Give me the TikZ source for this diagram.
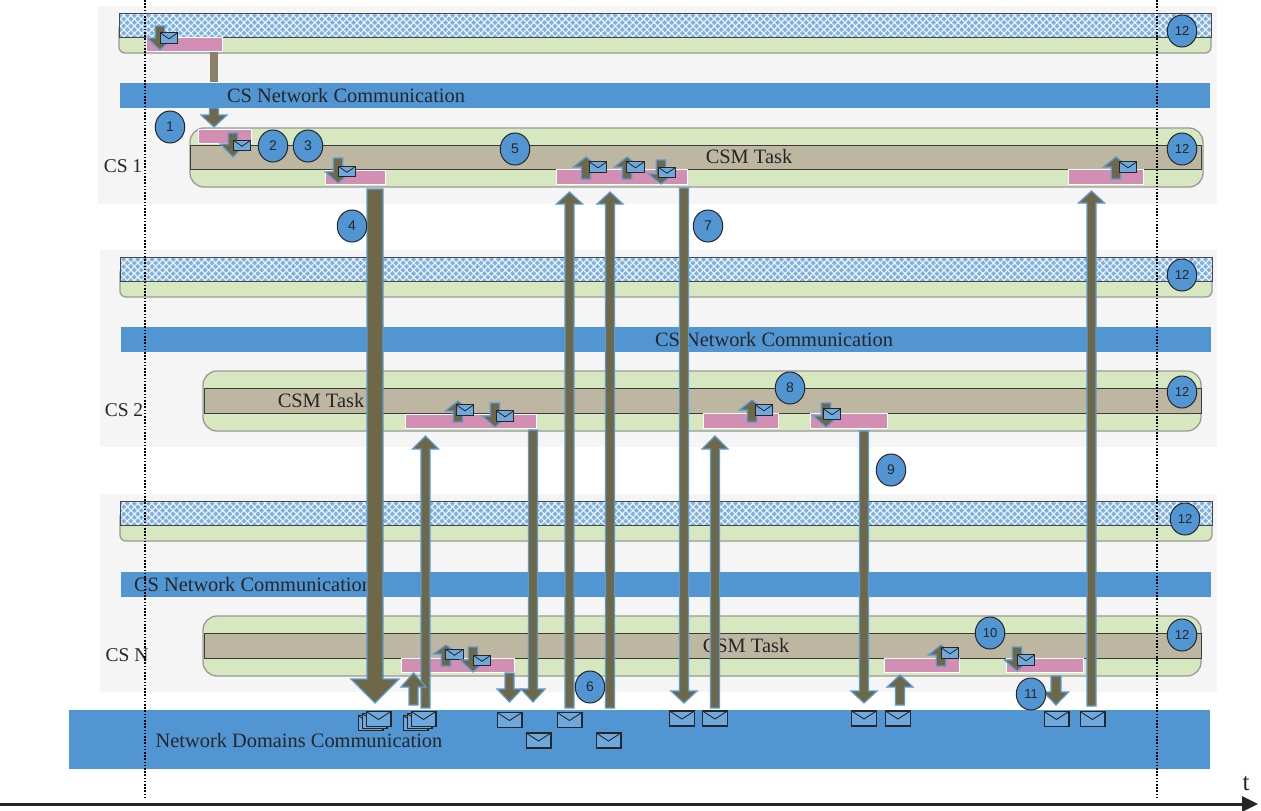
\documentclass[tikz,border=0pt]{standalone}
\usepackage{fontspec}
\setmainfont{Liberation Serif}
\setsansfont{Liberation Sans}
\usepackage{xcolor}
\usetikzlibrary{arrows.meta,patterns.meta,shapes.geometric}

\definecolor{panelgray}{HTML}{F5F5F5}
\definecolor{taskgreen}{HTML}{D7E7BF}
\definecolor{taskbrown}{HTML}{BDB6A0}
\definecolor{slotpink}{HTML}{D28FB3}
\definecolor{netblue}{HTML}{5196D3}
\definecolor{hatchblue}{HTML}{7FB1E2}
\definecolor{flowbrown}{HTML}{6E6849}
\definecolor{stubbrown}{HTML}{87816A}
\definecolor{flowedge}{HTML}{5B9BD5}
\definecolor{mailblue}{HTML}{6FA8DC}
\definecolor{inkdark}{HTML}{262626}

\tikzset{
  panel/.style={fill=panelgray,draw=none},
  netbar/.style={fill=netblue,draw=none},
  greenbox/.style={fill=taskgreen,draw=black!40,line width=1.3pt,rounded corners=#1},
  greenbox/.default=7pt,
  taskband/.style={fill=taskbrown,draw=inkdark!90,line width=0.8pt},
  slot/.style={fill=slotpink,draw=white,line width=1pt},
  flow/.style={fill=flowbrown,draw=flowedge,line width=1.2pt,line join=miter},
  timeline/.style={dash pattern=on 1.6pt off 1.6pt,line width=1.2pt,black},
  numcircle/.style={ellipse,draw=inkdark,fill=netblue,line width=1pt,minimum width=29.5pt,
    minimum height=32pt,inner sep=0pt,font=\sffamily\fontsize{#1}{#1}\selectfont,text=inkdark},
  numcircle/.default=14,
  lbl/.style={font=\fontsize{20.4}{22}\selectfont,text=inkdark,inner sep=0pt},
  cslbl/.style={font=\fontsize{19.5}{22}\selectfont,text=inkdark,inner sep=0pt},
  mail/.pic={
    \draw[fill=mailblue,draw=inkdark,line width=1.2pt] (-8.7,-5.2) rectangle (8.7,5.2);
    \draw[draw=inkdark,line width=0.8pt] (-8.7,-5.2)--(0,0.8)--(8.7,-5.2);
  },
  bigmail/.pic={
    \draw[fill=mailblue,draw=inkdark,line width=1.2pt] (-12.4,-7.5) rectangle (12.4,7.5);
    \draw[draw=inkdark,line width=0.9pt] (-12.4,-7.5)--(0,0.5)--(12.4,-7.5);
  }
}

% x / start / head base / tip / half shaft / half head
\newcommand{\flowarrow}[6]{
  \draw[flow] ({#1-#5},#2)--({#1+#5},#2)--({#1+#5},#3)--({#1+#6},#3)--(#1,#4)
    --({#1-#6},#3)--({#1-#5},#3)--cycle;
}

\begin{document}
\begin{tikzpicture}[x=1pt,y=-1pt]
  \useasboundingbox (0,0) rectangle (1261,811);
  \fill[white] (0,0) rectangle (1261,811);

  % gray panels
  \fill[panel] (98,6) rectangle (1217,204);
  \fill[panel] (100,250) rectangle (1217,447);
  \fill[panel] (100,494) rectangle (1217,692);

  % top strips of each CS
  \foreach \xa/\xb/\ya in {119/1211/13,120/1212/257,120/1212/501}{
    \draw[greenbox=6pt] (\xa,{\ya+10}) rectangle (\xb,{\ya+40});
    \fill[hatchblue] (\xa,\ya) rectangle (\xb,{\ya+24});
    \fill[pattern={Lines[angle=45,distance=5pt,line width=1.1pt]},pattern color=white!90!hatchblue]
      (\xa,\ya) rectangle (\xb,{\ya+24});
    \fill[pattern={Lines[angle=-45,distance=5pt,line width=1.1pt]},pattern color=white!90!hatchblue]
      (\xa,\ya) rectangle (\xb,{\ya+24});
    \draw[inkdark!85,line width=0.9pt] (\xa,\ya) rectangle (\xb,{\ya+24});
  }

  % network bars
  \fill[netbar] (120,83) rectangle (1210,108);
  \fill[netbar] (121,327) rectangle (1211,352);
  \fill[netbar] (121,572) rectangle (1211,597);
  \fill[netbar] (69,710) rectangle (1210,769);
  \node[lbl] (netA) at (346,96) {CS Network Communication};
  \node[lbl] (netB) at (774,340) {CS Network Communication};
  \node[lbl] (netN) at (253,585) {CS Network Communication};
  \node[lbl] (domain) at (299,741) {Network Domains Communication};

  % task boxes
  \draw[greenbox=14pt] (190,128) rectangle (1203,187);
  \draw[taskband] (190,145) rectangle (1201,169);
  \draw[greenbox=14pt] (203,371) rectangle (1201,431);
  \draw[taskband] (204,388) rectangle (1201,413);
  \draw[greenbox=14pt] (203,616) rectangle (1201,676);
  \draw[taskband] (204,633) rectangle (1201,658);
  \node[lbl] (taskA) at (749,157) {CSM Task};
  \node[lbl] (taskB) at (321,401) {CSM Task};
  \node[lbl] (taskN) at (746,646) {CSM Task};

  \node[cslbl] (csA) at (123,166) {CS 1};
  \node[cslbl] (csB) at (124,410) {CS 2};
  \node[cslbl] (csN) at (127,655) {CS N};

  % pink slots
  \foreach \xa/\ya/\xb/\yb in {146/37/222/51,198/129/251/143,325/170/385/184,
    556/169/687/184,1068/169/1143/184,405/414/536/428,703/413/778/428,
    810/413/887/428,401/658/514/672,884/658/959/672,1006/658/1083/672}{
    \draw[slot] (\xa,\ya) rectangle (\xb,\yb);
  }

  % dotted time marks
  \draw[timeline] (145,0)--(145,798);
  \draw[timeline] (1157,0)--(1157,798);

  % stub above the first network bar
  \fill[stubbrown] (210,52) rectangle (218,82);

  % long and short flows
  \foreach \x/\ya/\yb/\yc/\sh/\hh in {
    214/108/115/127/4.5/13,
    375/189/679/703/8/24,
    569.5/708/204/192/4.5/13,
    610/708/204/192/4.5/13,
    684/188/691/703/4.5/13,
    1091.5/706/203/191/4.5/13,
    425.5/708/449/436/4.5/13,
    533/430/689/702/4.5/12,
    715/708/449/436/4.5/13,
    864/431/691/703/4.5/13,
    413.5/705/687/673/4.5/12.5,
    509.5/673/689/702/4.5/12.5,
    900/705/687/675/4.5/13,
    1056/676/692/705/5/12.5}{
    \flowarrow{\x}{\ya}{\yb}{\yc}{\sh}{\hh}
  }

  % short flows with a message
  \foreach \x/\ya/\yb/\yc/\mx/\my in {
    160/26/38/50/169/38,
    233/133/144/157/242/145.5,
    338/158/172/183/347/171.5,
    586/179/167/157/598/167,
    627/179/167/157/635.5/167,
    661/160/174/184/667/172.5,
    1116/179/167/157/1128/167,
    458/422/411/401/465/410,
    495/403/416/427/505/416,
    752/422/410/400/764/410,
    826/403/416/427/832/414,
    446/666/654/645/454.5/654.5,
    473/647/660/672/482/660.5,
    941/666/655/645/950/653,
    1017/647/660/671/1026/660}{
    \flowarrow{\x}{\ya}{\yb}{\yc}{4.7}{12.5}
    \pic at (\mx,\my) {mail};
  }

  % messages in the domain bar
  \foreach \mx/\my in {509.5/720,569.5/720,538.5/740.5,608.5/740.5,682/718.5,715/718.5,
    864/718.5,898/718.5,1056.5/719,1092.5/719}{
    \pic at (\mx,\my) {bigmail};
  }
  \foreach \mx in {378.5,423.5}{
    \pic at ({\mx-8},723) {bigmail};
    \pic at ({\mx-4},721) {bigmail};
    \pic at (\mx,719) {bigmail};
  }

  % numbered marks
  \node[numcircle] (n1) at (170,127) {1};
  \node[numcircle] (n2) at (273,146) {2};
  \node[numcircle] (n3) at (308,146) {3};
  \node[numcircle] (n4) at (352,226) {4};
  \node[numcircle] (n5) at (515,149) {5};
  \node[numcircle] (n6) at (590,687) {6};
  \node[numcircle] (n7) at (708,226) {7};
  \node[numcircle] (n8) at (790,388) {8};
  \node[numcircle] (n9) at (891,470) {9};
  \node[numcircle=13] (n10) at (990,633) {10};
  \node[numcircle=13] (n11) at (1031,694) {11};
  \foreach \i/\mx/\my in {a/1182/31,b/1182/149,c/1182/275,d/1182/392,e/1185/519,f/1182/635}{
    \node[numcircle=13] (end\i) at (\mx,\my) {12};
  }

  % time axis
  \draw[-{Triangle[length=16pt,width=15pt]},line width=3pt,inkdark] (0,804)--(1258,804);
  \node[lbl,font=\fontsize{25}{27}\selectfont] (tlabel) at (1246,784) {t};
\end{tikzpicture}
\end{document}
